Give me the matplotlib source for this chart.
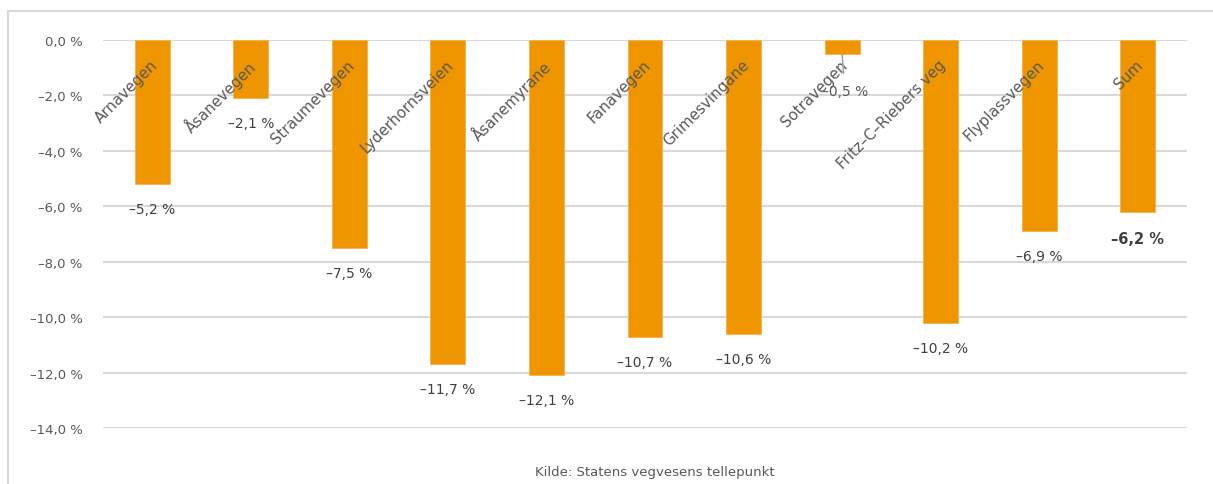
import matplotlib
matplotlib.use("Agg")
import matplotlib.pyplot as plt
from matplotlib.lines import Line2D

categories = ["Arnavegen", "Åsanevegen", "Straumevegen", "Lyderhornsveien", "Åsanemyrane",
              "Fanavegen", "Grimesvingane", "Sotravegen", "Fritz-C-Riebers veg",
              "Flyplassvegen", "Sum"]
values = [-5.2, -2.1, -7.5, -11.7, -12.1, -10.7, -10.6, -0.5, -10.2, -6.9, -6.2]
yticks = [0, -2, -4, -6, -8, -10, -12, -14]
source = "Kilde: Statens vegvesens tellepunkt"

BAR = "#EE9500"
GRID = "#D9D9D9"
TXT = "#595959"
VAL = "#404040"

plt.rcParams['font.family'] = ['DejaVu Sans']

fig = plt.figure(figsize=(12.13, 4.85), dpi=100)
ax = fig.add_axes([103/1213, 1 - 429/485, (1187 - 103)/1213, (429 - 41)/485])

x = list(range(len(categories)))
ax.bar(x, values, width=0.355, color=BAR, edgecolor="#F5B24A", linewidth=0.6, zorder=3)

def fmt(v):
    return f"{v:.1f} %".replace(".", ",").replace("-", "\u2013")

ax.set_xlim(-0.5, len(categories) - 0.5)
ax.set_ylim(-14, 0)
ax.set_yticks(yticks)
ax.set_yticklabels([fmt(t) for t in yticks], color=TXT, fontsize=9.5)
ax.tick_params(axis='y', length=0, pad=14.5)
ax.set_xticks([])
ax.yaxis.grid(True, color=GRID, linewidth=1.5, zorder=0)
for s in ax.spines.values():
    s.set_visible(False)

for i, (c, v) in enumerate(zip(categories, values)):
    ax.annotate(c.replace("-", "\u2013"), xy=(i, 0), xytext=(6, -12), textcoords="offset points",
                rotation=45, ha="right", va="top", fontsize=10.8, color=TXT,
                annotation_clip=False, zorder=5)
    if c == "Sotravegen":
        ax.annotate(fmt(v), xy=(i, v), xytext=(2, -27), textcoords="offset points",
                    ha="center", va="center", fontsize=10, color=TXT,
                    arrowprops=dict(arrowstyle="-", color="#A6A6A6", lw=1.2,
                                    shrinkA=6, shrinkB=0), zorder=5)
    elif c == "Sum":
        ax.annotate(fmt(v), xy=(i, v), xytext=(0, -19), textcoords="offset points",
                    ha="center", va="center", fontsize=10.5, color=VAL,
                    fontweight="bold", zorder=5)
    else:
        ax.annotate(fmt(v), xy=(i, v), xytext=(0, -18), textcoords="offset points",
                    ha="center", va="center", fontsize=10, color=VAL, zorder=5)

fig.text(655/1213, 1 - 473/485, source, ha="center", va="center", fontsize=9.5, color=TXT)

# outer frame: only top and left edges are visible in the reference
bx, by = 7.5/1213, 1 - 11.5/485
fig.add_artist(Line2D([bx, 1.0], [by, by], transform=fig.transFigure,
                      color=GRID, linewidth=1.5))
fig.add_artist(Line2D([bx, bx], [0.0, by], transform=fig.transFigure,
                      color=GRID, linewidth=1.5))

fig.savefig("out.png", dpi=100)
